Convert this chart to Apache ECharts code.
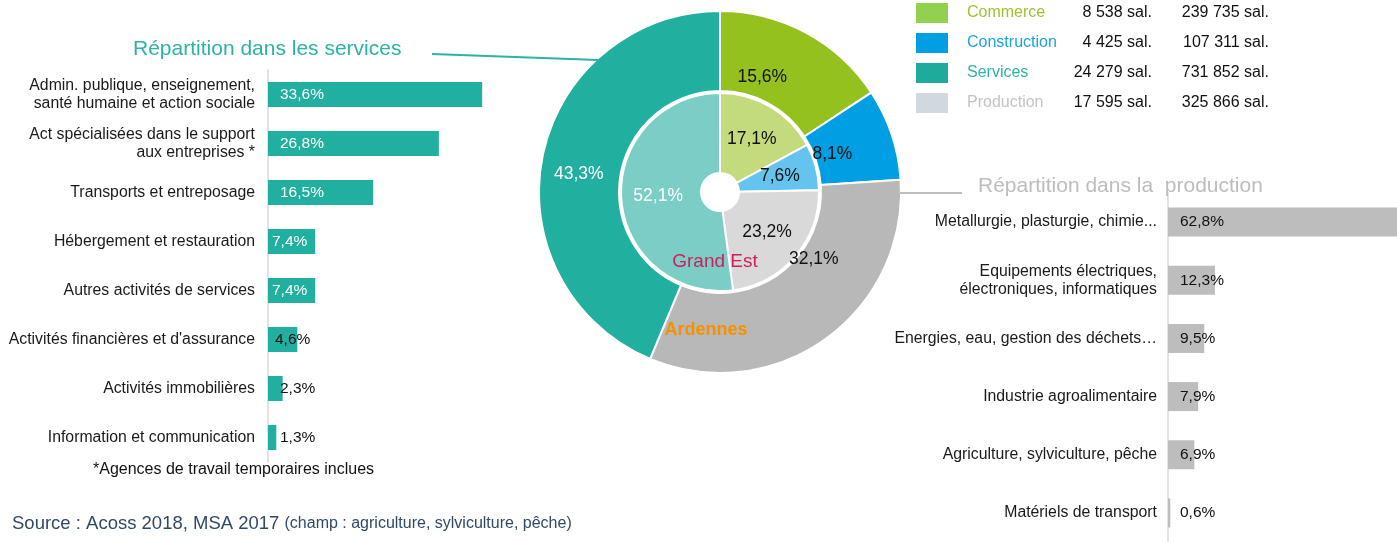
<!DOCTYPE html>
<html>
<head>
<meta charset="utf-8">
<title>Répartition des salariés</title>
<script src="https://cdn.jsdelivr.net/npm/echarts/dist/echarts.min.js"></script>
<style>
  html, body { margin: 0; padding: 0; background: #fff; }
  #chart { width: 1397px; height: 542px; }
</style>
</head>
<body>
<div id="chart"></div>
<script>
// donut : Ardennes (anneau extérieur) / Grand Est (intérieur)
const sectors = ['Commerce', 'Construction', 'Production', 'Services'];
const ardennesPct = [15.6, 8.1, 32.1, 43.3];
const grandEstPct = [17.1, 7.6, 23.2, 52.1];

// legende
const legendNames = ['Commerce', 'Construction', 'Services', 'Production'];
const ardennesSal = [8538, 4425, 24279, 17595];
const grandEstSal = [239735, 107311, 731852, 325866];

// services
const serviceCats = [
  'Admin. publique, enseignement,\nsanté humaine et action sociale',
  'Act spécialisées dans le support\naux entreprises *',
  'Transports et entreposage',
  'Hébergement et restauration',
  'Autres activités de services',
  "Activités financières et d'assurance",
  'Activités immobilières',
  'Information et communication'
];
const serviceVals = [33.6, 26.8, 16.5, 7.4, 7.4, 4.6, 2.3, 1.3];

// production
const prodCats = [
  'Metallurgie, plasturgie, chimie...',
  'Equipements électriques,\nélectroniques, informatiques',
  'Energies, eau, gestion des déchets…',
  'Industrie agroalimentaire',
  'Agriculture, sylviculture, pêche',
  'Matériels de transport'
];
const prodVals = [62.8, 12.3, 9.5, 7.9, 6.9, 0.6];

const outerColors = ['#95C11F', '#009FE3', '#B8B8B8', '#21AFA0'];
const innerColors = ['#C3DA7D', '#64C4EE', '#D9D9D9', '#7ACEC6'];
const legendIcon = { Commerce: '#92D050', Construction: '#009FE3', Services: '#1FAB9C', Production: '#D2D8DF' };
const legendText = { Commerce: '#9DC32F', Construction: '#1BA3E6', Services: '#2AB4A4', Production: '#C4C4C4' };
// petits décalages des étiquettes de l'anneau extérieur
const outerShift = [[-26, 12], [-24, 8], [10, -50], [0, 11]];

const FONT = "'Liberation Sans', Arial, sans-serif";
const pct = v => v.toFixed(1).replace('.', ',') + '%';
const fmt = n => String(n).replace(/\B(?=(\d{3})+(?!\d))/g, ' ');

// decalage du libellé dans la barre
const svcOffset = v => (v >= 10 || v < 3) ? 12 : (v < 5 ? 7 : 4);

const chart = echarts.init(document.getElementById('chart'));
chart.setOption({
  animation: false,
  textStyle: { fontFamily: FONT },
  title: [{
    text: 'Répartition dans les services',
    left: 133, top: 39, padding: 0,
    textStyle: { color: '#2BB3A3', fontSize: 21, fontWeight: 'normal', fontFamily: FONT }
  }, {
    text: 'Répartition dans la  production',
    left: 978, top: 176, padding: 0,
    textStyle: { color: '#BDBDBD', fontSize: 21, fontWeight: 'normal', fontFamily: FONT }
  }],
  legend: {
    orient: 'vertical',
    left: 914, top: 1, padding: 0,
    icon: 'rect',
    itemWidth: 34, itemHeight: 22, itemGap: 6,
    selectedMode: false,
    data: legendNames.map(n => ({
      name: n,
      itemStyle: { color: legendIcon[n] },
      textStyle: { color: legendText[n] }
    })),
    formatter: name => {
      const i = legendNames.indexOf(name);
      return '{n|' + name + '}{a|' + fmt(ardennesSal[i]) + ' sal.}{b|' + fmt(grandEstSal[i]) + ' sal.}';
    },
    textStyle: {
      fontSize: 16, lineHeight: 20, fontFamily: FONT,
      rich: {
        n: { width: 94, padding: [0, 0, 0, 13], fontSize: 16, lineHeight: 20, fontFamily: FONT },
        a: { width: 91, align: 'right', color: '#111', fontSize: 16, lineHeight: 20, fontFamily: FONT },
        b: { width: 117, align: 'right', color: '#111', fontSize: 16, lineHeight: 20, fontFamily: FONT }
      }
    }
  },
  grid: [
    { left: 268, top: 70, width: 255, height: 392 },
    { left: 1168, top: 193, width: 229, height: 354 }
  ],
  xAxis: [
    { gridIndex: 0, type: 'value', min: 0, max: 40, show: false },
    { gridIndex: 1, type: 'value', min: 0, max: 60, show: false }
  ],
  yAxis: [{
    gridIndex: 0, type: 'category', inverse: true, data: serviceCats,
    axisLine: { lineStyle: { color: '#D9D9D9', width: 1.5 } },
    axisTick: { length: 5, lineStyle: { color: '#D9D9D9' } },
    axisLabel: { margin: 13, fontSize: 15.8, color: '#1A1A1A', lineHeight: 18, fontFamily: FONT }
  }, {
    gridIndex: 1, type: 'category', inverse: true, data: prodCats,
    axisLine: { lineStyle: { color: '#D9D9D9', width: 1.5 } },
    axisTick: { length: 5, lineStyle: { color: '#D9D9D9' } },
    axisLabel: { margin: 11, fontSize: 15.8, color: '#1A1A1A', lineHeight: 18, fontFamily: FONT }
  }],
  series: [{
    type: 'bar', xAxisIndex: 0, yAxisIndex: 0, barWidth: 25, silent: true,
    itemStyle: { color: '#21AFA0' },
    label: { show: true, fontSize: 15.5, verticalAlign: 'middle', fontFamily: FONT, formatter: p => pct(p.value) },
    data: serviceVals.map(v => ({
      value: v,
      label: { color: v > 5 ? '#fff' : '#111', position: [svcOffset(v), '50%'] }
    }))
  }, {
    type: 'bar', xAxisIndex: 1, yAxisIndex: 1, barWidth: 29, silent: true,
    itemStyle: { color: '#BDBDBD' },
    label: {
      show: true, fontSize: 15.5, color: '#111', verticalAlign: 'middle', fontFamily: FONT,
      position: [12, '50%'], formatter: p => pct(p.value)
    },
    data: prodVals
  }, {
    type: 'pie', name: 'Ardennes', center: [720, 192], radius: [101, 181],
    startAngle: 90, silent: true,
    itemStyle: { borderColor: '#fff', borderWidth: 2 },
    label: { position: 'inside', fontSize: 17.5, color: '#111', fontFamily: FONT, formatter: p => pct(p.value) },
    labelLine: { show: false },
    labelLayout: p => ({ dx: outerShift[p.dataIndex][0], dy: outerShift[p.dataIndex][1] }),
    data: sectors.map((s, i) => ({
      name: s, value: ardennesPct[i],
      itemStyle: { color: outerColors[i] },
      label: s === 'Services' ? { color: '#fff' } : {}
    }))
  }, {
    type: 'pie', name: 'Grand Est', center: [720, 192], radius: [19, 99],
    startAngle: 90, silent: true,
    itemStyle: { borderColor: '#fff', borderWidth: 2 },
    label: { position: 'inside', fontSize: 17.5, color: '#111', fontFamily: FONT, formatter: p => pct(p.value) },
    labelLine: { show: false },
    data: sectors.map((s, i) => ({
      name: s, value: grandEstPct[i],
      itemStyle: { color: innerColors[i] },
      label: s === 'Services' ? { color: '#fff' } : {}
    }))
  }],
  graphic: [
    { type: 'line', z: 100, shape: { x1: 432, y1: 54, x2: 598, y2: 60 }, style: { stroke: '#2BB3A3', lineWidth: 2 } },
    { type: 'line', z: 100, shape: { x1: 900, y1: 193, x2: 962, y2: 193 }, style: { stroke: '#BDBDBD', lineWidth: 2 } },
    {
      type: 'text', z: 100, x: 715, y: 262,
      style: { text: 'Grand Est', fill: '#CC1F5C', fontSize: 19, fontFamily: FONT, align: 'center', verticalAlign: 'middle' }
    },
    {
      type: 'text', z: 100, x: 706, y: 330,
      style: { text: 'Ardennes', fill: '#F39200', fontSize: 18, fontWeight: 'bold', fontFamily: FONT, align: 'center', verticalAlign: 'middle' }
    },
    {
      type: 'text', z: 100, x: 93, y: 470,
      style: { text: '*Agences de travail temporaires inclues', fill: '#111', fontSize: 16, fontFamily: FONT, verticalAlign: 'middle' }
    },
    {
      type: 'text', z: 100, x: 12, y: 524,
      style: {
        text: '{s|Source : Acoss 2018, MSA 2017 }{c|(champ : agriculture, sylviculture, pêche)}',
        verticalAlign: 'middle',
        rich: {
          s: { fontSize: 18.5, fill: '#2F4A66', fontFamily: FONT },
          c: { fontSize: 16, fill: '#2F4A66', fontFamily: FONT }
        }
      }
    }
  ]
});
</script>
</body>
</html>
